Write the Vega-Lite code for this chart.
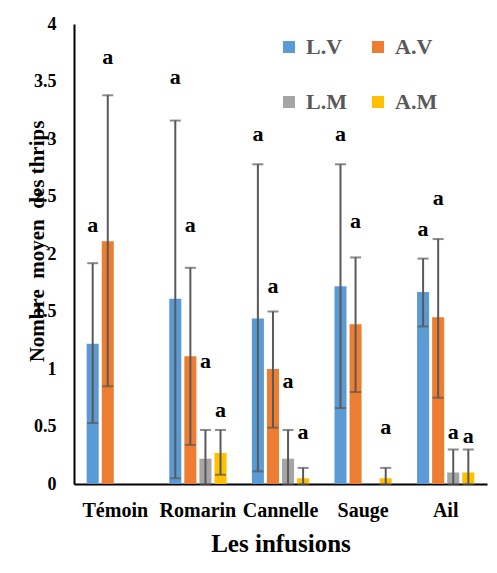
{
  "$schema": "https://vega.github.io/schema/vega-lite/v6.json",
  "width": 413,
  "height": 460,
  "autosize": {"type": "none"},
  "padding": {"left": 74, "top": 24, "right": 10, "bottom": 89},
  "background": "white",
  "data": {
    "values": [
      {"inf": "Témoin", "serie": "L.V", "mean": 1.22, "lo": 0.53, "hi": 1.92, "lab": 2.25},
      {"inf": "Témoin", "serie": "A.V", "mean": 2.11, "lo": 0.85, "hi": 3.38, "lab": 3.71},
      {"inf": "Romarin", "serie": "L.V", "mean": 1.61, "lo": 0.05, "hi": 3.16, "lab": 3.54},
      {"inf": "Romarin", "serie": "A.V", "mean": 1.11, "lo": 0.34, "hi": 1.88, "lab": 2.25},
      {"inf": "Romarin", "serie": "L.M", "mean": 0.22, "lo": 0, "hi": 0.47, "lab": 1.07},
      {"inf": "Romarin", "serie": "A.M", "mean": 0.27, "lo": 0.08, "hi": 0.47, "lab": 0.64},
      {"inf": "Cannelle", "serie": "L.V", "mean": 1.44, "lo": 0.11, "hi": 2.78, "lab": 3.04},
      {"inf": "Cannelle", "serie": "A.V", "mean": 1.0, "lo": 0.49, "hi": 1.5, "lab": 1.72},
      {"inf": "Cannelle", "serie": "L.M", "mean": 0.22, "lo": 0, "hi": 0.47, "lab": 0.9},
      {"inf": "Cannelle", "serie": "A.M", "mean": 0.05, "lo": 0, "hi": 0.14, "lab": 0.45},
      {"inf": "Sauge", "serie": "L.V", "mean": 1.72, "lo": 0.66, "hi": 2.78, "lab": 3.04},
      {"inf": "Sauge", "serie": "A.V", "mean": 1.39, "lo": 0.8, "hi": 1.97, "lab": 2.29},
      {"inf": "Sauge", "serie": "A.M", "mean": 0.05, "lo": 0, "hi": 0.14, "lab": 0.5},
      {"inf": "Ail", "serie": "L.V", "mean": 1.67, "lo": 1.37, "hi": 1.96, "lab": 2.22},
      {"inf": "Ail", "serie": "A.V", "mean": 1.45, "lo": 0.75, "hi": 2.13, "lab": 2.49},
      {"inf": "Ail", "serie": "L.M", "mean": 0.1, "lo": 0, "hi": 0.3, "lab": 0.45},
      {"inf": "Ail", "serie": "A.M", "mean": 0.1, "lo": 0, "hi": 0.3, "lab": 0.42}
    ]
  },
  "encoding": {
    "x": {
      "field": "inf",
      "type": "nominal",
      "sort": ["Témoin", "Romarin", "Cannelle", "Sauge", "Ail"],
      "scale": {"paddingInner": 0.27, "paddingOuter": 0.135},
      "title": "Les infusions"
    },
    "xOffset": {
      "field": "serie",
      "type": "nominal",
      "sort": ["L.V", "A.V", "L.M", "A.M"],
      "scale": {"domain": ["L.V", "A.V", "L.M", "A.M"], "paddingInner": 0.2, "paddingOuter": 0.1}
    }
  },
  "layer": [
    {
      "mark": {"type": "bar"},
      "encoding": {
        "y": {
          "field": "mean",
          "type": "quantitative",
          "scale": {"domain": [0, 4], "nice": false},
          "title": "Nombre\u00a0 moyen\u00a0 des thrips",
          "axis": {"values": [0, 0.5, 1, 1.5, 2, 2.5, 3, 3.5, 4], "format": "~g"}
        },
        "color": {
          "field": "serie",
          "type": "nominal",
          "scale": {"domain": ["L.V", "A.V", "L.M", "A.M"], "range": ["#5B9BD5", "#ED7D31", "#A5A5A5", "#FFC000"]},
          "legend": {
            "orient": "none",
            "direction": "horizontal",
            "legendX": 204,
            "legendY": 12,
            "columns": 2,
            "title": null,
            "symbolType": "square",
            "symbolSize": 144,
            "symbolStrokeWidth": 0,
            "labelFont": "Liberation Serif",
            "labelFontSize": 22,
            "labelFontWeight": "bold",
            "labelColor": "#595959",
            "labelOffset": 6,
            "columnPadding": 20,
            "rowPadding": 33,
            "padding": 0
          }
        }
      }
    },
    {
      "mark": {"type": "rule", "color": "#595959", "strokeWidth": 2},
      "encoding": {
        "y": {"field": "lo", "type": "quantitative", "title": "Nombre\u00a0 moyen\u00a0 des thrips"},
        "y2": {"field": "hi"}
      }
    },
    {
      "mark": {"type": "tick", "color": "#595959", "thickness": 2, "size": 11, "orient": "horizontal"},
      "encoding": {
        "y": {"field": "hi", "type": "quantitative", "title": "Nombre\u00a0 moyen\u00a0 des thrips"}
      }
    },
    {
      "mark": {"type": "tick", "color": "#595959", "thickness": 2, "size": 11, "orient": "horizontal"},
      "encoding": {
        "y": {"field": "lo", "type": "quantitative", "title": "Nombre\u00a0 moyen\u00a0 des thrips"}
      }
    },
    {
      "mark": {"type": "text", "text": "a", "font": "Liberation Serif", "fontSize": 22, "fontWeight": "bold", "color": "black", "baseline": "middle", "align": "center"},
      "encoding": {
        "y": {"field": "lab", "type": "quantitative", "title": "Nombre\u00a0 moyen\u00a0 des thrips"}
      }
    }
  ],
  "config": {
    "view": {"stroke": null},
    "axis": {
      "grid": false,
      "ticks": false,
      "tickSize": 0,
      "domainColor": "black",
      "domainWidth": 2,
      "labelFont": "Liberation Serif",
      "labelFontWeight": "bold",
      "labelColor": "black",
      "titleFont": "Liberation Serif",
      "titleFontWeight": "bold",
      "titleColor": "black"
    },
    "axisY": {
      "labelFontSize": 18,
      "labelPadding": 18,
      "titleFontSize": 21,
      "titleX": -31,
      "titleY": 217,
      "titleAngle": -90,
      "titleBaseline": "alphabetic",
      "titleAlign": "center"
    },
    "axisX": {
      "labelFontSize": 20,
      "labelPadding": 16,
      "labelAngle": 0,
      "titleFontSize": 25,
      "titlePadding": 11
    }
  }
}
